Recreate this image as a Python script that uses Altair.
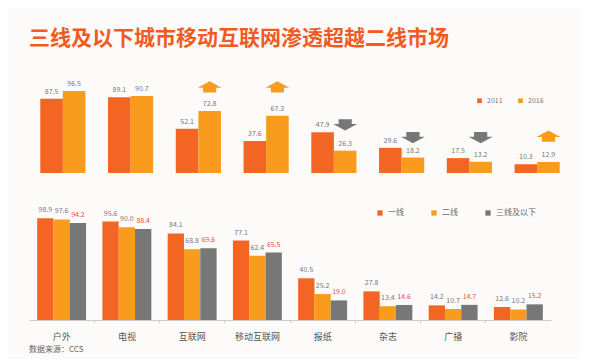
import altair as alt
import pandas as pd

categories = ["户外", "电视", "互联网", "移动互联网", "报纸", "杂志", "广播", "影院"]
years = ["2011", "2016"]
v2011 = [87.5, 89.1, 52.1, 37.6, 47.9, 29.6, 17.5, 10.3]
v2016 = [96.5, 90.7, 72.8, 67.3, 26.3, 18.2, 13.2, 12.9]
tiers = ["一线", "二线", "三线及以下"]
tier1 = [98.9, 95.6, 84.1, 77.1, 40.5, 27.8, 14.2, 12.6]
tier2 = [97.6, 90.0, 68.8, 62.4, 25.2, 13.4, 10.7, 10.2]
tier3 = [94.2, 88.4, 69.6, 65.5, 19.0, 14.6, 14.7, 15.2]
arrow_dir = [None, None, "up", "up", "down", "down", "down", "up"]
arrow_level = [None, None, 101, 101, 57, 42, 42, 43]

C1, C2, C3 = "#F26522", "#F99B1C", "#777777"
FONT = "Noto Sans CJK SC"
GAP = "gap"


def slot(cat, s):
    return f"{cat}|{s}"


# slot domains: bars of a group side by side, one empty slot between groups
top_slots, bot_slots, bot_gaps, bot_mid = [], [], [], []
for i, c in enumerate(categories):
    top_slots += [slot(c, y) for y in years]
    bot_slots += [slot(c, t) for t in tiers]
    bot_mid.append(slot(c, tiers[1]))
    if i < len(categories) - 1:
        top_slots.append(slot(c, GAP))
        bot_slots.append(slot(c, GAP))
        bot_gaps.append(slot(c, GAP))

top_df = pd.DataFrame(
    [{"slot": slot(c, s), "series": s, "value": v}
     for c, a, b in zip(categories, v2011, v2016)
     for s, v in ((years[0], a), (years[1], b))]
)
arrow_df = pd.DataFrame(
    [{"slot": slot(c, years[1]), "dir": d, "level": l}
     for c, d, l in zip(categories, arrow_dir, arrow_level) if d]
)
bot_df = pd.DataFrame(
    [{"slot": slot(c, s), "series": s, "value": v}
     for c, a, b, t in zip(categories, tier1, tier2, tier3)
     for s, v in ((tiers[0], a), (tiers[1], b), (tiers[2], t))]
)

UP = "M0,-0.5L1,0.05L0.55,0.05L0.55,0.45L-0.55,0.45L-0.55,0.05L-1,0.05Z"
DOWN = "M0,0.5L1,-0.05L0.55,-0.05L0.55,-0.45L-0.55,-0.45L-0.55,-0.05L-1,-0.05Z"

# ---- top panel ----
tscale = alt.Scale(type="band", domain=top_slots, paddingInner=0, paddingOuter=0.5)
tx = alt.X("slot:N", scale=tscale, axis=None)
ty = alt.Y("value:Q", axis=None, scale=alt.Scale(domain=[0, 120]))

top_bars = alt.Chart(top_df).mark_bar().encode(
    x=tx, y=ty,
    color=alt.Color("series:N", sort=years,
                    scale=alt.Scale(domain=years, range=[C1, C2]),
                    legend=alt.Legend(orient="none", legendX=447, legendY=26,
                                      direction="horizontal", title=None,
                                      symbolType="square", symbolSize=22,
                                      labelFontSize=7, labelColor="#777",
                                      labelFont=FONT, columnPadding=14,
                                      padding=0)),
)
top_text = alt.Chart(top_df).mark_text(dy=-7, fontSize=7, color="#777", font=FONT).encode(
    x=tx, y=ty, text=alt.Text("value:Q", format=".1f"),
)
ay = alt.Y("level:Q", axis=None, scale=alt.Scale(domain=[0, 120]))
up_arrows = alt.Chart(arrow_df).transform_filter(alt.datum.dir == "up").mark_point(
    shape=UP, size=576, filled=True, fill=C2, opacity=1, strokeWidth=0
).encode(x=tx, y=ay)
down_arrows = alt.Chart(arrow_df).transform_filter(alt.datum.dir == "down").mark_point(
    shape=DOWN, size=576, filled=True, fill=C3, opacity=1, strokeWidth=0
).encode(x=tx, y=ay)

top = alt.layer(top_bars, top_text, up_arrows, down_arrows).properties(width=542, height=102)

# ---- bottom panel ----
bscale = alt.Scale(type="band", domain=bot_slots, paddingInner=0, paddingOuter=0.5)
by = alt.Y("value:Q", axis=None, scale=alt.Scale(domain=[0, 100]))

bot_bars = alt.Chart(bot_df).mark_bar().encode(
    x=alt.X("slot:N", scale=bscale,
            axis=alt.Axis(title=None, labels=False, ticks=True, tickSize=3, orient="bottom",
                          values=bot_gaps, bandPosition=0.5,
                          domainColor="#cccccc", tickColor="#cccccc", grid=False)),
    y=by,
    color=alt.Color("series:N", sort=tiers,
                    scale=alt.Scale(domain=tiers, range=[C1, C2, C3]),
                    legend=alt.Legend(orient="none", legendX=347, legendY=-8,
                                      direction="horizontal", title=None,
                                      symbolType="square", symbolSize=28,
                                      labelFontSize=8, labelColor="#666",
                                      labelFont=FONT, columnPadding=26,
                                      padding=0)),
)
bot_text = alt.Chart(bot_df).mark_text(dy=-8, fontSize=7, font=FONT).encode(
    x=alt.X("slot:N", scale=bscale,
            axis=alt.Axis(title=None, labelAngle=0, labelFontSize=9, labelColor="#555",
                          labelFont=FONT, ticks=False, tickSize=0, domain=False,
                          orient="bottom", values=bot_mid, bandPosition=0.5,
                          labelExpr="split(datum.label, '|')[0]",
                          labelPadding=12, grid=False)),
    y=by,
    text=alt.Text("value:Q", format=".1f"),
    color=alt.condition(alt.datum.series == tiers[2], alt.value("#EF4B3F"), alt.value("#777")),
)

bottom = alt.layer(bot_bars, bot_text).resolve_axis(x="independent").properties(
    width=522, height=103,
    title=alt.TitleParams("数据来源：CCS", orient="bottom", anchor="start", frame="group",
                          fontSize=8, color="#666", fontWeight="normal", font=FONT, offset=5),
)

chart = alt.vconcat(top, bottom, spacing=44, bounds="flush").resolve_scale(
    color="independent"
).resolve_legend(color="independent").properties(
    title=alt.TitleParams("三线及以下城市移动互联网渗透超越二线市场", anchor="start",
                          frame="group", fontSize=21, fontWeight="bold", color="#F15A22",
                          font=FONT, offset=22),
    padding={"left": 21, "top": 20, "right": 10, "bottom": 5},
    background="#FDFBFA",
).configure_view(stroke=None)

chart.save("out.html", embed_options={"renderer": "svg", "actions": False})
